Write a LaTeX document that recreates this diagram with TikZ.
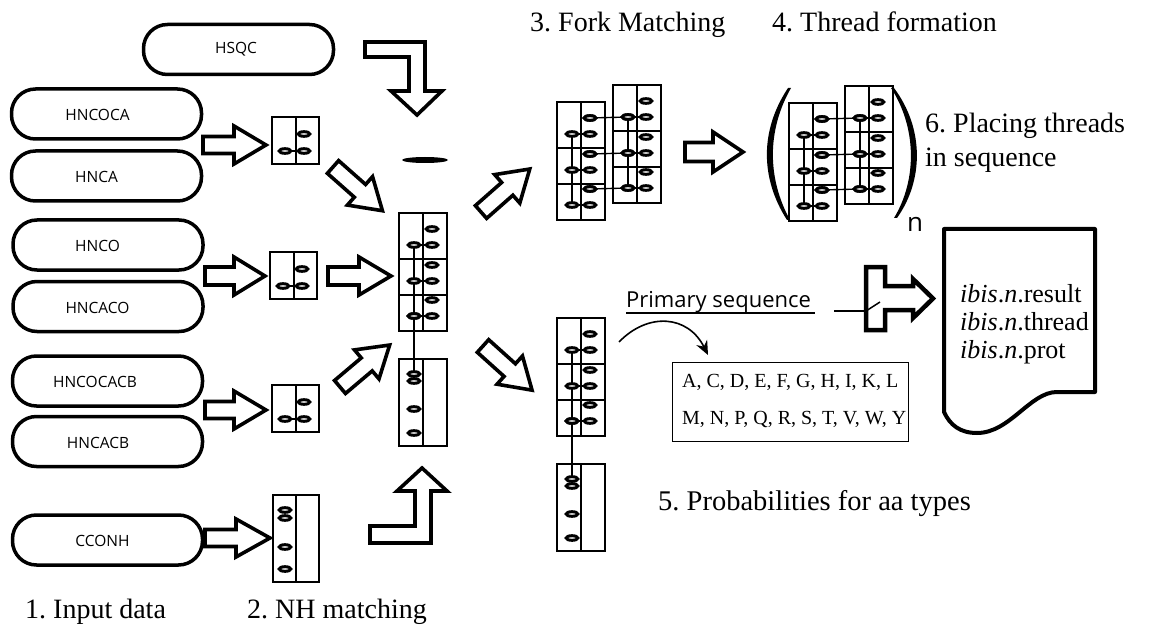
\documentclass[tikz,border=0pt]{standalone}
\usepackage{fontspec}
\setmainfont{Liberation Serif}
\newfontfamily\ovfont{Open Sans}
\usetikzlibrary{arrows.meta}
\begin{document}
\frenchspacing
\begin{tikzpicture}[x=1pt,y=-1pt,
  oval/.style={draw, line width=3.5pt, rounded corners=24pt, minimum width=190pt, minimum height=50pt, inner sep=0pt},
  ovtext/.style={inner sep=0pt, font=\ovfont\fontsize{15.5}{18}\selectfont},
  harrow/.style={draw, line width=3.6pt, fill=white, line join=miter, miter limit=10},
  gridline/.style={draw, line width=1.6pt},
  thinline/.style={draw, line width=1.4pt},
  ring/.style={draw, line width=3pt, fill=white},
  lab/.style={anchor=base west, inner sep=0pt, font=\fontsize{28}{32}\selectfont},
  pics/barrow/.style n args={4}{code={%
    \draw[harrow] (0,-#2) -- ({#1-#4},-#2) -- ({#1-#4},-#3) -- (#1,0) -- ({#1-#4},#3) -- ({#1-#4},#2) -- (0,#2) -- cycle;}},
]
\useasboundingbox (0,0) rectangle (1150,628);

\newcommand\ringat[2]{\path[ring] (#1,#2) ellipse [x radius=5.8, y radius=2.3];}
\newcommand\fstack[2]{%
  \begin{scope}[shift={(#1,#2)}]
    \draw[gridline, fill=white] (0,0) rectangle (48,118);
    \draw[gridline] (24,0) -- (24,118) (0,46) -- (48,46) (0,82) -- (48,82);
    \draw[thinline] (15,32) -- (15,103);
    \draw[thinline] (15,32) -- (33,32) (15,68) -- (33,68) (15,103) -- (33,103);
    \ringat{33}{16}\ringat{15}{32}\ringat{33}{32}
    \ringat{33}{52}\ringat{15}{68}\ringat{33}{68}
    \ringat{33}{87}\ringat{15}{103}\ringat{33}{103}
  \end{scope}}
\newcommand\lstack[2]{%
  \begin{scope}[shift={(#1,#2)}]
    \draw[gridline, fill=white] (0,146) rectangle (48,233);
    \draw[gridline] (24,146) -- (24,233);
    \draw[thinline] (15,103) -- (15,161);
    \ringat{15}{103}
    \ringat{15}{161}\ringat{15}{168}\ringat{15}{196}\ringat{15}{220}
  \end{scope}}
\newcommand\fpair[2]{%
  \fstack{#1}{#2}
  \fstack{#1+56}{#2-17}
  \begin{scope}[shift={(#1,#2)}]
    \draw[thinline] (33,16) -- (71,15) (33,52) -- (71,51) (33,87) -- (71,86);
    \ringat{33}{16}\ringat{71}{15}\ringat{33}{52}\ringat{71}{51}\ringat{33}{87}\ringat{71}{86}
  \end{scope}}
\newcommand\smallfork[2]{%
  \begin{scope}[shift={(#1,#2)}]
    \draw[gridline, fill=white] (0,0) rectangle (47,47);
    \draw[gridline] (24,0) -- (24,47);
    \draw[thinline] (13,34) -- (32,34);
    \ringat{32}{17}\ringat{13}{34}\ringat{32}{34}
  \end{scope}}

% ---------- input ovals ----------
\node[oval] (hsqc)     at (238.5,49.5) {};
\node[oval] (hncoca)   at (106.5,114)  {};
\node[oval] (hnca)     at (106.5,176)  {};
\node[oval] (hnco)     at (108,245)    {};
\node[oval] (hncaco)   at (108,306.5)  {};
\node[oval] (hncocacb) at (107.5,381)  {};
\node[oval] (hncacb)   at (107.5,441.5){};
\node[oval] (cconh)    at (107.5,540)  {};
\node[ovtext] (hsqc-t)     at (236,49.5)  {HSQC};
\node[ovtext] (hncoca-t)   at (97.5,115)  {HNCOCA};
\node[ovtext] (hnca-t)     at (96.5,177)  {HNCA};
\node[ovtext] (hnco-t)     at (97.5,246)  {HNCO};
\node[ovtext] (hncaco-t)   at (97.5,307.5){HNCACO};
\node[ovtext] (hncocacb-t) at (95,382)    {HNCOCACB};
\node[ovtext] (hncacb-t)   at (98,442.5)  {HNCACB};
\node[ovtext] (cconh-t)    at (102.5,541) {CCONH};

% ---------- small NH boxes ----------
\smallfork{272}{117}
\smallfork{270}{252}
\smallfork{272}{385}
\begin{scope}[shift={(273,495)}]
  \draw[gridline, fill=white] (0,0) rectangle (46,87);
  \draw[gridline] (23,0) -- (23,87);
  \ringat{12}{15}\ringat{12}{23}\ringat{12}{52}\ringat{12}{74}
\end{scope}

% ---------- block arrows (input -> boxes) ----------
\pic at (203,145) {barrow={63}{8.5}{19}{32}};
\pic at (205,276) {barrow={60}{9}{19}{31}};
\pic at (328,276) {barrow={63}{9}{19}{32}};
\pic at (205,410) {barrow={61}{8.5}{19}{32}};
\pic at (205,538) {barrow={65}{8.5}{19}{34}};
\pic[rotate=-41.5] at (333,167) {barrow={66}{8.5}{19}{30}};
\pic[rotate=40.2] at (340,387) {barrow={65}{8.5}{19}{30}};

% elbow arrows
\draw[harrow] (365,42) -- (425,42) -- (425,91) -- (442,91) -- (417,115) -- (391,91) -- (409,91) -- (409,57) -- (365,57) -- cycle;
\draw[harrow] (370,543) -- (431,543) -- (431,491) -- (447,491) -- (422,468) -- (397,491) -- (415,491) -- (415,526) -- (370,526) -- cycle;

% bar under HSQC arrow
\fill (425,160) ellipse [x radius=23, y radius=3];

% ---------- central column ----------
\fstack{399}{213}
\lstack{399}{213}

% ---------- arrows out of central column ----------
\pic[rotate=41.4] at (481,212) {barrow={65}{8.5}{19}{30}};
\pic[rotate=-42] at (483,346) {barrow={66}{8.5}{19}{30}};

% ---------- 3. fork matching ----------
\fpair{557}{102}
\pic at (685,152) {barrow={58}{9.5}{20}{30}};

% ---------- 4. thread formation ----------
\fpair{789}{103}
\fill (788,88) .. controls (760,130) and (760,178) .. (787,220)
  -- (790,220) .. controls (767,178) and (767,130) .. (791,88) -- cycle;
\fill (894,88) .. controls (924,128) and (924,180) .. (897,218)
  -- (894,218) .. controls (917,180) and (917,128) .. (891,88) -- cycle;
\node[anchor=base, inner sep=0pt, font=\ovfont\fontsize{26}{30}\selectfont] (nsub) at (915,232) {n};

% ---------- 5. lower column ----------
\fstack{557}{318}
\lstack{557}{318}
\coordinate (cstart) at (619,342);
\coordinate (cend) at (708,355);
\draw[line width=1.6pt, -{Stealth[length=14pt,width=12pt]}] (cstart) .. controls (648,312) and (688,315) .. (cend);

\node[draw, line width=1.8pt, minimum width=236pt, minimum height=79pt, inner sep=0pt] (aabox) at (790.5,402) {};
\node[anchor=base west, inner sep=0pt, font=\fontsize{20}{24}\selectfont] (aa1) at (682,387) {A, C, D, E, F, G, H, I, K, L};
\node[anchor=base west, inner sep=0pt, font=\fontsize{20}{24}\selectfont] (aa2) at (682,424) {M, N, P, Q, R, S, T, V, W, Y};

% primary sequence
\node[anchor=base west, inner sep=0pt, font=\ovfont\fontsize{22}{26}\selectfont] (prim) at (626,307) {Primary sequence};
\draw[line width=1.5pt] (626,313) -- (815,313);
\coordinate (tin) at (866,311);
\draw[line width=1.5pt] (834,311) -- (tin);
\draw[harrow, line width=4.5pt] (866,267) -- (885,267) -- (885,286) -- (913,286) -- (913,279) -- (933,298.5) -- (913,318) -- (913,310) -- (885,310) -- (885,330) -- (866,330) -- cycle;
\draw[line width=1.5pt] (tin) -- (880,302);

% ---------- output document ----------
\draw[line width=4pt, line join=round, fill=white] (944,229) -- (1095,229) -- (1095,392) -- (1057,392)
  .. controls (1030,392) and (1010,433) .. (977,433) .. controls (960,433) and (950,425) .. (944,412) -- cycle;
\node[anchor=base west, inner sep=0pt, font=\fontsize{26}{30}\selectfont] (r1) at (960,302) {\textit{ibis}.\textit{n}.result};
\node[anchor=base west, inner sep=0pt, font=\fontsize{26}{30}\selectfont] (r2) at (960,330) {\textit{ibis}.\textit{n}.thread};
\node[anchor=base west, inner sep=0pt, font=\fontsize{26}{30}\selectfont] (r3) at (960,358) {\textit{ibis}.\textit{n}.prot};

% ---------- step labels ----------
\node[lab] (l1) at (25,618) {1. Input data};
\node[lab] (l2) at (247,618) {2. NH matching};
\node[lab] (l3) at (530,32) {3. Fork Matching};
\node[lab] (l4) at (772,32) {4. Thread formation};
\node[lab, font=\fontsize{28.5}{32}\selectfont] (l5) at (658,510) {5. Probabilities for aa types};
\node[lab] (l6a) at (925,133) {6. Placing threads};
\node[lab] (l6b) at (925,167) {in sequence};
\end{tikzpicture}
\end{document}
